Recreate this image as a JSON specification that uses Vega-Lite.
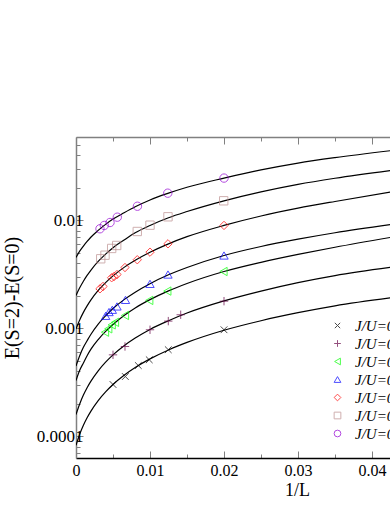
{
"$schema": "https://vega.github.io/schema/vega-lite/v6.json",
"width": 314, "height": 321,
"autosize": {"type": "none"},
"padding": {"left": 76, "top": 137, "right": 0, "bottom": 47},
"config": {"view": {"stroke": null}, "axis": {"grid": false, "labelFont": "Liberation Serif", "titleFont": "Liberation Serif", "labelColor": "black", "titleColor": "black", "titleFontWeight": "normal"}, "legend": {"labelFont": "Liberation Serif"}},
"datasets": {
"curves": [
{"s":"J/U=0.01","x":0,"y":0.000083},{"s":"J/U=0.01","x":0.0005,"y":0.000105},{"s":"J/U=0.01","x":0.001,"y":0.000127},{"s":"J/U=0.01","x":0.0015,"y":0.000149},{"s":"J/U=0.01","x":0.002,"y":0.000171},{"s":"J/U=0.01","x":0.003,"y":0.000215},{"s":"J/U=0.01","x":0.004,"y":0.000259},{"s":"J/U=0.01","x":0.005,"y":0.000303},{"s":"J/U=0.01","x":0.0065,"y":0.000369},{"s":"J/U=0.01","x":0.008,"y":0.000435},{"s":"J/U=0.01","x":0.01,"y":0.000523},{"s":"J/U=0.01","x":0.0125,"y":0.000633},{"s":"J/U=0.01","x":0.015,"y":0.000743},{"s":"J/U=0.01","x":0.02,"y":0.000963},{"s":"J/U=0.01","x":0.025,"y":0.00118},{"s":"J/U=0.01","x":0.03,"y":0.0014},{"s":"J/U=0.01","x":0.035,"y":0.00162},{"s":"J/U=0.01","x":0.0425,"y":0.00192},
{"s":"J/U=0.02","x":0,"y":0.00016},{"s":"J/U=0.02","x":0.0005,"y":0.0002},{"s":"J/U=0.02","x":0.001,"y":0.000242},{"s":"J/U=0.02","x":0.0015,"y":0.000283},{"s":"J/U=0.02","x":0.002,"y":0.000324},{"s":"J/U=0.02","x":0.003,"y":0.000406},{"s":"J/U=0.02","x":0.004,"y":0.000488},{"s":"J/U=0.02","x":0.005,"y":0.00057},{"s":"J/U=0.02","x":0.0065,"y":0.000693},{"s":"J/U=0.02","x":0.008,"y":0.000816},{"s":"J/U=0.02","x":0.01,"y":0.00098},{"s":"J/U=0.02","x":0.0125,"y":0.00118},{"s":"J/U=0.02","x":0.015,"y":0.00139},{"s":"J/U=0.02","x":0.02,"y":0.0018},{"s":"J/U=0.02","x":0.025,"y":0.00222},{"s":"J/U=0.02","x":0.03,"y":0.00266},{"s":"J/U=0.02","x":0.035,"y":0.00309},{"s":"J/U=0.02","x":0.0425,"y":0.00368},
{"s":"J/U=0.03","x":0,"y":0.00033},{"s":"J/U=0.03","x":0.0005,"y":0.00041},{"s":"J/U=0.03","x":0.001,"y":0.00048},{"s":"J/U=0.03","x":0.0015,"y":0.00056},{"s":"J/U=0.03","x":0.002,"y":0.00064},{"s":"J/U=0.03","x":0.003,"y":0.00079},{"s":"J/U=0.03","x":0.004,"y":0.00094},{"s":"J/U=0.03","x":0.005,"y":0.00109},{"s":"J/U=0.03","x":0.0065,"y":0.00132},{"s":"J/U=0.03","x":0.008,"y":0.00155},{"s":"J/U=0.03","x":0.01,"y":0.00185},{"s":"J/U=0.03","x":0.0125,"y":0.00223},{"s":"J/U=0.03","x":0.015,"y":0.00261},{"s":"J/U=0.03","x":0.02,"y":0.00337},{"s":"J/U=0.03","x":0.025,"y":0.0041},{"s":"J/U=0.03","x":0.03,"y":0.00485},{"s":"J/U=0.03","x":0.035,"y":0.00565},{"s":"J/U=0.03","x":0.0425,"y":0.00697},
{"s":"J/U=0.04","x":0,"y":0.00045},{"s":"J/U=0.04","x":0.0005,"y":0.00056},{"s":"J/U=0.04","x":0.001,"y":0.00067},{"s":"J/U=0.04","x":0.0015,"y":0.00077},{"s":"J/U=0.04","x":0.002,"y":0.00088},{"s":"J/U=0.04","x":0.003,"y":0.0011},{"s":"J/U=0.04","x":0.004,"y":0.00131},{"s":"J/U=0.04","x":0.005,"y":0.00153},{"s":"J/U=0.04","x":0.0065,"y":0.00185},{"s":"J/U=0.04","x":0.008,"y":0.00217},{"s":"J/U=0.04","x":0.01,"y":0.0026},{"s":"J/U=0.04","x":0.0125,"y":0.00314},{"s":"J/U=0.04","x":0.015,"y":0.00367},{"s":"J/U=0.04","x":0.02,"y":0.00474},{"s":"J/U=0.04","x":0.025,"y":0.00574},{"s":"J/U=0.04","x":0.03,"y":0.00671},{"s":"J/U=0.04","x":0.035,"y":0.0077},{"s":"J/U=0.04","x":0.0425,"y":0.00916},
{"s":"J/U=0.05","x":0,"y":0.00099},{"s":"J/U=0.05","x":0.0005,"y":0.0012},{"s":"J/U=0.05","x":0.001,"y":0.00141},{"s":"J/U=0.05","x":0.0015,"y":0.00162},{"s":"J/U=0.05","x":0.002,"y":0.00183},{"s":"J/U=0.05","x":0.003,"y":0.00225},{"s":"J/U=0.05","x":0.004,"y":0.00266},{"s":"J/U=0.05","x":0.005,"y":0.00307},{"s":"J/U=0.05","x":0.0065,"y":0.00368},{"s":"J/U=0.05","x":0.008,"y":0.00428},{"s":"J/U=0.05","x":0.01,"y":0.00508},{"s":"J/U=0.05","x":0.0125,"y":0.00608},{"s":"J/U=0.05","x":0.015,"y":0.00708},{"s":"J/U=0.05","x":0.02,"y":0.009},{"s":"J/U=0.05","x":0.025,"y":0.011},{"s":"J/U=0.05","x":0.03,"y":0.013},{"s":"J/U=0.05","x":0.035,"y":0.015},{"s":"J/U=0.05","x":0.0425,"y":0.0183},
{"s":"J/U=0.06","x":0,"y":0.00202},{"s":"J/U=0.06","x":0.0005,"y":0.00238},{"s":"J/U=0.06","x":0.001,"y":0.00274},{"s":"J/U=0.06","x":0.0015,"y":0.0031},{"s":"J/U=0.06","x":0.002,"y":0.00346},{"s":"J/U=0.06","x":0.003,"y":0.00418},{"s":"J/U=0.06","x":0.004,"y":0.00488},{"s":"J/U=0.06","x":0.005,"y":0.0056},{"s":"J/U=0.06","x":0.0065,"y":0.0066},{"s":"J/U=0.06","x":0.008,"y":0.0077},{"s":"J/U=0.06","x":0.01,"y":0.009},{"s":"J/U=0.06","x":0.0125,"y":0.0106},{"s":"J/U=0.06","x":0.015,"y":0.0121},{"s":"J/U=0.06","x":0.02,"y":0.0152},{"s":"J/U=0.06","x":0.025,"y":0.0184},{"s":"J/U=0.06","x":0.03,"y":0.0216},{"s":"J/U=0.06","x":0.035,"y":0.0246},{"s":"J/U=0.06","x":0.0425,"y":0.029},
{"s":"J/U=0.07","x":0,"y":0.00454},{"s":"J/U=0.07","x":0.0005,"y":0.0052},{"s":"J/U=0.07","x":0.001,"y":0.0058},{"s":"J/U=0.07","x":0.0015,"y":0.0064},{"s":"J/U=0.07","x":0.002,"y":0.007},{"s":"J/U=0.07","x":0.003,"y":0.0081},{"s":"J/U=0.07","x":0.004,"y":0.0092},{"s":"J/U=0.07","x":0.005,"y":0.0103},{"s":"J/U=0.07","x":0.0065,"y":0.0118},{"s":"J/U=0.07","x":0.008,"y":0.0134},{"s":"J/U=0.07","x":0.01,"y":0.0155},{"s":"J/U=0.07","x":0.0125,"y":0.0179},{"s":"J/U=0.07","x":0.015,"y":0.0203},{"s":"J/U=0.07","x":0.02,"y":0.0247},{"s":"J/U=0.07","x":0.025,"y":0.0294},{"s":"J/U=0.07","x":0.03,"y":0.034},{"s":"J/U=0.07","x":0.035,"y":0.0382},{"s":"J/U=0.07","x":0.0425,"y":0.0443}
],
"pts": [
{"s":"J/U=0.01","x":0.005,"y":0.000303},{"s":"J/U=0.01","x":0.00667,"y":0.000359},{"s":"J/U=0.01","x":0.00842,"y":0.000454},{"s":"J/U=0.01","x":0.0099,"y":0.000513},{"s":"J/U=0.01","x":0.01247,"y":0.000636},{"s":"J/U=0.01","x":0.02,"y":0.000973},
{"s":"J/U=0.02","x":0.005,"y":0.00057},{"s":"J/U=0.02","x":0.00662,"y":0.000681},{"s":"J/U=0.02","x":0.01,"y":0.000973},{"s":"J/U=0.02","x":0.01247,"y":0.00117},{"s":"J/U=0.02","x":0.01415,"y":0.00134},{"s":"J/U=0.02","x":0.02,"y":0.00179},
{"s":"J/U=0.03","x":0.00392,"y":0.000924},{"s":"J/U=0.03","x":0.00436,"y":0.000993},{"s":"J/U=0.03","x":0.00482,"y":0.00108},{"s":"J/U=0.03","x":0.00527,"y":0.00114},{"s":"J/U=0.03","x":0.00662,"y":0.00132},{"s":"J/U=0.03","x":0.0099,"y":0.00182},{"s":"J/U=0.03","x":0.01234,"y":0.00222},{"s":"J/U=0.03","x":0.01993,"y":0.00337},
{"s":"J/U=0.04","x":0.00401,"y":0.00131},{"s":"J/U=0.04","x":0.00446,"y":0.00142},{"s":"J/U=0.04","x":0.00491,"y":0.00149},{"s":"J/U=0.04","x":0.00554,"y":0.0016},{"s":"J/U=0.04","x":0.00669,"y":0.00184},{"s":"J/U=0.04","x":0.01,"y":0.00259},{"s":"J/U=0.04","x":0.01243,"y":0.00316},{"s":"J/U=0.04","x":0.02,"y":0.00474},
{"s":"J/U=0.05","x":0.00324,"y":0.00233},{"s":"J/U=0.05","x":0.00365,"y":0.00245},{"s":"J/U=0.05","x":0.00482,"y":0.00295},{"s":"J/U=0.05","x":0.00514,"y":0.00303},{"s":"J/U=0.05","x":0.00554,"y":0.00316},{"s":"J/U=0.05","x":0.00662,"y":0.00367},{"s":"J/U=0.05","x":0.00828,"y":0.00433},{"s":"J/U=0.05","x":0.01,"y":0.00509},{"s":"J/U=0.05","x":0.01243,"y":0.00608},{"s":"J/U=0.05","x":0.02,"y":0.009},
{"s":"J/U=0.06","x":0.00334,"y":0.00442},{"s":"J/U=0.06","x":0.00392,"y":0.00477},{"s":"J/U=0.06","x":0.00482,"y":0.00551},{"s":"J/U=0.06","x":0.0055,"y":0.00587},{"s":"J/U=0.06","x":0.00828,"y":0.00791},{"s":"J/U=0.06","x":0.01,"y":0.00905},{"s":"J/U=0.06","x":0.01243,"y":0.01082},{"s":"J/U=0.06","x":0.01996,"y":0.01522},
{"s":"J/U=0.07","x":0.00324,"y":0.00838},{"s":"J/U=0.07","x":0.00382,"y":0.009},{"s":"J/U=0.07","x":0.0046,"y":0.00958},{"s":"J/U=0.07","x":0.00558,"y":0.01073},{"s":"J/U=0.07","x":0.0083,"y":0.01355},{"s":"J/U=0.07","x":0.0124,"y":0.0179},{"s":"J/U=0.07","x":0.02,"y":0.0247}
]
},
"layer": [
{"data": {"name": "curves"},
 "mark": {"type": "line", "interpolate": "monotone", "clip": true, "color": "black", "strokeWidth": 1.2},
 "encoding": {
  "x": {"field": "x", "type": "quantitative", "scale": {"domain": [0, 0.04243], "nice": false, "zero": false},
   "axis": {"orient": "bottom", "values": [0,0.005,0.01,0.015,0.02,0.025,0.03,0.035,0.04],
    "labelExpr": "abs(datum.value*100-round(datum.value*100))<1e-6 ? ''+datum.value : ''",
    "tickSize": {"condition": {"test": "abs(datum.value*100-round(datum.value*100))<1e-6", "value": -7}, "value": -4},
    "tickColor": "#808080", "tickWidth": 1, "domainColor": "black", "domainWidth": 1.5,
    "labelFont": "Liberation Serif", "labelFontSize": 16, "labelPadding": 11, "labelFlush": false, "labelOverlap": false,
    "title": "1/L", "titleFont": "Liberation Serif", "titleFontSize": 18, "titleX": 221, "titleY": 23, "titleBaseline": "top", "titleAnchor": null}},
  "y": {"field": "y", "type": "quantitative", "scale": {"type": "log", "domain": [0.0000632, 0.0593], "nice": false},
   "axis": {"orient": "left", "values": [0.00007,0.00008,0.00009,0.0001,0.0002,0.0003,0.0004,0.0005,0.0006,0.0007,0.0008,0.0009,0.001,0.002,0.003,0.004,0.005,0.006,0.007,0.008,0.009,0.01,0.02,0.03,0.04,0.05],
    "labelExpr": "indexof([0.0001,0.001,0.01], datum.value) >= 0 ? ''+datum.value : ''",
    "tickSize": {"condition": {"test": "indexof([0.0001,0.001,0.01], datum.value) >= 0", "value": -7}, "value": -4},
    "tickColor": "#808080", "tickWidth": 1, "domainColor": "#808080", "domainWidth": 1.5,
    "labelFont": "Liberation Serif", "labelFontSize": 17, "labelPadding": 0, "labelOverlap": false, "labelFlush": false,
    "title": "E(S=2)-E(S=0)", "titleFont": "Liberation Serif", "titleFontSize": 20, "titleX": -64, "titleBaseline": "middle"}},
  "detail": {"field": "s", "type": "nominal"}
 }},
{"data": {"name": "pts"},
 "mark": {"type": "point", "filled": false, "strokeWidth": 1, "size": 70, "clip": true},
 "encoding": {
  "x": {"field": "x", "type": "quantitative", "scale": {"domain": [0, 0.04243], "nice": false, "zero": false},
   "axis": {"orient": "top", "values": [0,0.005,0.01,0.015,0.02,0.025,0.03,0.035,0.04], "labels": false, "title": null,
    "tickSize": {"condition": {"test": "abs(datum.value*100-round(datum.value*100))<1e-6", "value": -7}, "value": -4},
    "tickColor": "#808080", "domainColor": "#808080", "domainWidth": 1.5}},
  "y": {"field": "y", "type": "quantitative", "scale": {"type": "log", "domain": [0.0000632, 0.0593], "nice": false},
   "axis": {"orient": "left", "values": [0.00007,0.00008,0.00009,0.0001,0.0002,0.0003,0.0004,0.0005,0.0006,0.0007,0.0008,0.0009,0.001,0.002,0.003,0.004,0.005,0.006,0.007,0.008,0.009,0.01,0.02,0.03,0.04,0.05],
    "labelExpr": "indexof([0.0001,0.001,0.01], datum.value) >= 0 ? ''+datum.value : ''",
    "tickSize": {"condition": {"test": "indexof([0.0001,0.001,0.01], datum.value) >= 0", "value": -7}, "value": -4},
    "tickColor": "#808080", "tickWidth": 1, "domainColor": "#808080", "domainWidth": 1.5,
    "labelFont": "Liberation Serif", "labelFontSize": 17, "labelPadding": 0, "labelOverlap": false, "labelFlush": false,
    "title": "E(S=2)-E(S=0)", "titleFont": "Liberation Serif", "titleFontSize": 20, "titleX": -64, "titleBaseline": "middle"}},
  "shape": {"field": "s", "type": "nominal",
   "scale": {"domain": ["J/U=0.01","J/U=0.02","J/U=0.03","J/U=0.04","J/U=0.05","J/U=0.06","J/U=0.07"],
    "range": ["M-0.8,-0.8L0.8,0.8M0.8,-0.8L-0.8,0.8", "M-1,0L1,0M0,-1L0,1", "triangle-left", "triangle-up", "diamond", "square", "circle"]},
   "legend": {"orient": "none", "legendX": 254, "legendY": 181, "title": null, "padding": 0,
    "symbolSize": 45, "symbolStrokeWidth": 1, "symbolFillColor": "transparent", "labelFont": "Liberation Serif", "labelFontStyle": "italic", "labelFontSize": 15,
    "labelColor": "black", "labelOffset": 10, "rowPadding": 2, "labelLimit": 0}},
  "color": {"field": "s", "type": "nominal",
   "scale": {"domain": ["J/U=0.01","J/U=0.02","J/U=0.03","J/U=0.04","J/U=0.05","J/U=0.06","J/U=0.07"],
    "range": ["#000000","#670748","#00ff00","#0000ff","#ff0000","#bc8f8f","#9400d3"]},
   "legend": {"orient": "none", "legendX": 254, "legendY": 181, "title": null, "padding": 0,
    "symbolSize": 45, "symbolStrokeWidth": 1, "symbolFillColor": "transparent", "labelFont": "Liberation Serif", "labelFontStyle": "italic", "labelFontSize": 15,
    "labelColor": "black", "labelOffset": 10, "rowPadding": 2, "labelLimit": 0}}
 }}
],
"resolve": {"axis": {"x": "independent"}}
}
